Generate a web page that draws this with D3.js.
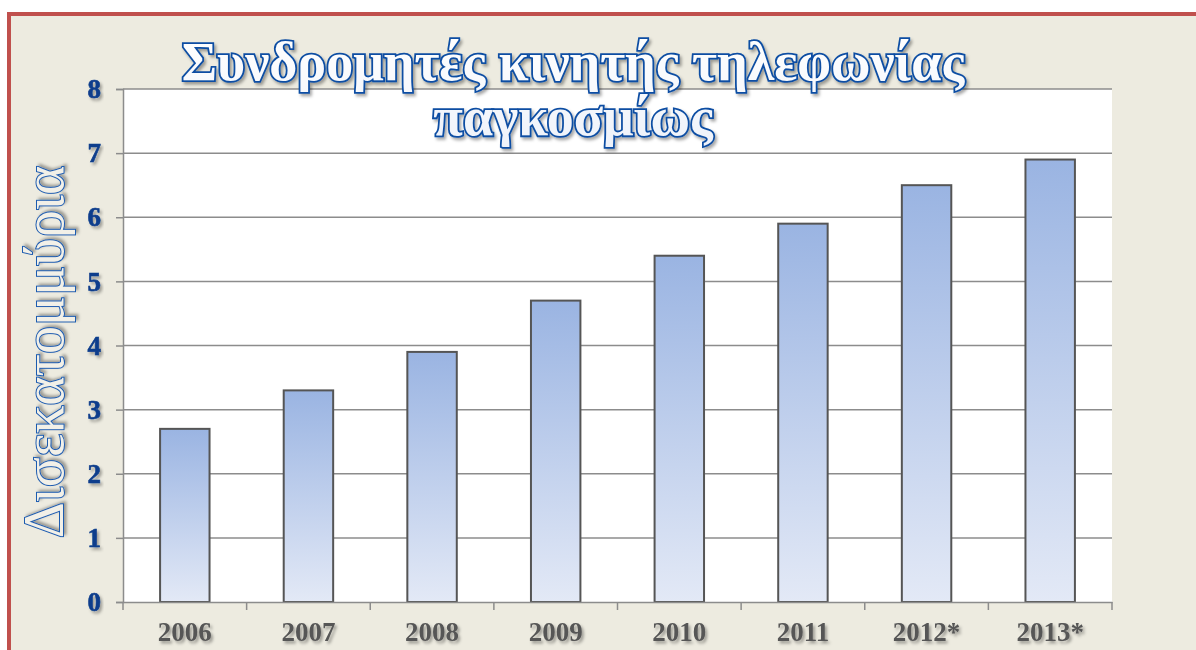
<!DOCTYPE html>
<html>
<head>
<meta charset="utf-8">
<script src="https://cdn.jsdelivr.net/npm/d3@7/dist/d3.min.js"></script>
<style>
  html, body { margin: 0; padding: 0; background: #ffffff; }
  svg { display: block; }
</style>
</head>
<body>
<svg id="chart" width="1196" height="650"></svg>
<script>
// Mobile subscribers worldwide (billions)
const years = ["2006", "2007", "2008", "2009", "2010", "2011", "2012*", "2013*"];
const subscribers = [2.7, 3.3, 3.9, 4.7, 5.4, 5.9, 6.5, 6.9];
const yTicks = [0, 1, 2, 3, 4, 5, 6, 7, 8];
const titleLines = ["Συνδρομητές κινητής τηλεφωνίας", "παγκοσμίως"];
const yTitle = "Δισεκατομμύρια";

const svg = d3.select("#chart");
const W = 1196, H = 650;
const plot = { left: 123, right: 1112, top: 89, bottom: 602 };

const defs = svg.append("defs");

const grad = defs.append("linearGradient")
  .attr("id", "barFill").attr("x1", 0).attr("y1", 0).attr("x2", 0).attr("y2", 1);
grad.append("stop").attr("offset", "0%").attr("stop-color", "#9ab4e2");
grad.append("stop").attr("offset", "100%").attr("stop-color", "#e3e9f6");

const shadow = defs.append("filter").attr("id", "shadow")
  .attr("x", "-10%").attr("y", "-10%").attr("width", "130%").attr("height", "140%");
shadow.append("feDropShadow").attr("dx", 2).attr("dy", 2.5).attr("stdDeviation", 1.6)
  .attr("flood-color", "#000").attr("flood-opacity", 0.35);

const titleGrad = defs.append("linearGradient")
  .attr("id", "titleFill").attr("x1", 0).attr("y1", 0).attr("x2", 0).attr("y2", 1);
titleGrad.append("stop").attr("offset", "0%").attr("stop-color", "#ffffff");
titleGrad.append("stop").attr("offset", "100%").attr("stop-color", "#eef2fa");

// chart area with red frame
svg.append("rect")
  .attr("x", 9).attr("y", 14).attr("width", W + 20).attr("height", H + 20)
  .attr("fill", "#edebe0").attr("stroke", "#c0504d").attr("stroke-width", 4);

svg.append("rect")
  .attr("x", plot.left).attr("y", plot.top)
  .attr("width", plot.right - plot.left).attr("height", plot.bottom - plot.top)
  .attr("fill", "#ffffff");

const x = d3.scaleBand().domain(years).range([plot.left, plot.right])
  .paddingInner(0.6).paddingOuter(0.3);
const xTickScale = d3.scaleBand().domain(years).range([plot.left, plot.right]);
const y = d3.scaleLinear().domain([0, 8]).range([plot.bottom, plot.top]);

// horizontal gridlines
svg.append("g").selectAll("line").data(yTicks.filter(d => d > 0)).join("line")
  .attr("x1", plot.left).attr("x2", plot.right)
  .attr("y1", d => y(d)).attr("y2", d => y(d))
  .attr("stroke", "#8c8c8c").attr("stroke-width", 1.5);

// bars
svg.append("g").selectAll("rect").data(years).join("rect")
  .attr("x", d => x(d)).attr("width", x.bandwidth())
  .attr("y", (d, i) => y(subscribers[i]))
  .attr("height", (d, i) => y(0) - y(subscribers[i]))
  .attr("fill", "url(#barFill)")
  .attr("stroke", "#555555").attr("stroke-width", 2);

// y axis
const yAxis = svg.append("g").attr("transform", `translate(${plot.left},0)`)
  .call(d3.axisLeft(y).tickValues(yTicks).tickSize(7).tickPadding(15).tickFormat(d3.format("d")));
yAxis.select(".domain").attr("stroke", "#8c8c8c").attr("stroke-width", 1.5);
yAxis.selectAll(".tick line").attr("stroke", "#8c8c8c").attr("stroke-width", 1.5);
yAxis.selectAll(".tick text")
  .attr("fill", "#0a3d8c")
  .attr("font-family", "'Liberation Serif', 'DejaVu Serif', serif")
  .attr("font-weight", "bold").attr("font-size", 27)
  .attr("stroke", "#0a3d8c").attr("stroke-width", 0.6)
  .attr("filter", "url(#shadow)");

// x axis
const xAxis = svg.append("g").attr("transform", `translate(0,${plot.bottom})`)
  .call(d3.axisBottom(xTickScale).tickSize(0).tickPadding(20));
xAxis.select(".domain").attr("stroke", "#8c8c8c").attr("stroke-width", 1.5);
xAxis.selectAll(".tick text")
  .attr("fill", "#565656")
  .attr("font-family", "'Liberation Serif', 'DejaVu Serif', serif")
  .attr("font-weight", "bold").attr("font-size", 27)
  .attr("filter", "url(#shadow)");
// category boundary ticks
const boundaries = years.map(d => xTickScale(d)).concat([plot.right]);
svg.append("g").selectAll("line").data(boundaries).join("line")
  .attr("x1", d => d).attr("x2", d => d)
  .attr("y1", plot.bottom).attr("y2", plot.bottom + 8)
  .attr("stroke", "#8c8c8c").attr("stroke-width", 1.5);

// title
const title = svg.append("text")
  .attr("text-anchor", "middle")
  .attr("font-family", "'Liberation Serif', 'DejaVu Serif', serif")
  .attr("font-weight", "bold").attr("font-size", 54)
  .attr("fill", "url(#titleFill)").attr("stroke", "#0d4ea3").attr("stroke-width", 3.6)
  .attr("paint-order", "stroke").attr("filter", "url(#shadow)");
title.append("tspan").attr("x", 573).attr("y", 80).text(titleLines[0]);
title.append("tspan").attr("x", 573).attr("y", 135).text(titleLines[1]);

// y axis title
svg.append("text")
  .attr("transform", "translate(63,352) rotate(-90)")
  .attr("text-anchor", "middle")
  .attr("font-family", "'Liberation Serif', 'DejaVu Serif', serif")
  .attr("font-size", 56)
  .attr("fill", "#f2f0e8").attr("stroke", "#1d5bb0").attr("stroke-width", 2)
  .attr("paint-order", "stroke")
  .attr("filter", "url(#shadow)")
  .text(yTitle);
</script>
</body>
</html>
